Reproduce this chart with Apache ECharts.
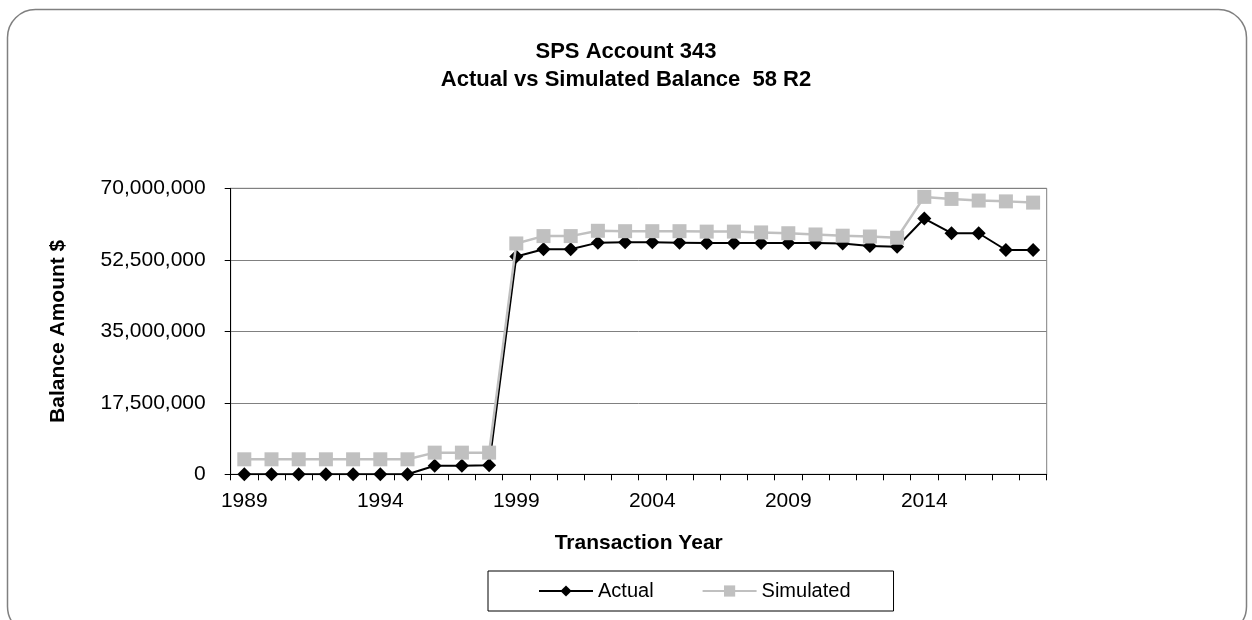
<!DOCTYPE html>
<html>
<head>
<meta charset="utf-8">
<script src="https://cdn.jsdelivr.net/npm/echarts@6/dist/echarts.min.js"></script>
<style>
html,body{margin:0;padding:0;background:#fff;}
#chart{width:1252px;height:620px;}
</style>
</head>
<body>
<div id="chart"></div>
<script>
const years = ['1989','1990','1991','1992','1993','1994','1995','1996','1997','1998','1999','2000','2001','2002','2003','2004','2005','2006','2007','2008','2009','2010','2011','2012','2013','2014','2015','2016','2017','2018'];
const actual = [0,0,0,0,0,0,0,2100000,2100000,2200000,53300000,55100000,55100000,56700000,56800000,56800000,56700000,56600000,56600000,56600000,56600000,56600000,56500000,55900000,55700000,62600000,59000000,59000000,54900000,54900000];
const simulated = [3670000,3670000,3670000,3670000,3670000,3670000,3670000,5300000,5300000,5300000,56500000,58300000,58300000,59600000,59500000,59500000,59500000,59400000,59400000,59200000,59000000,58700000,58400000,58200000,57900000,67900000,67400000,67000000,66800000,66500000];
const yTicks = {min:0, max:70000000, interval:17500000};
const titleLines = ['SPS Account 343','Actual vs Simulated Balance  58 R2'];

const FONT = "'Liberation Sans', Arial, sans-serif";
const chart = echarts.init(document.getElementById('chart'), null, {renderer:'canvas'});
chart.setOption({
  animation:false,
  backgroundColor:'#fff',
  graphic:[{
    type:'rect', silent:true, z:-1,
    shape:{x:7.5,y:9.5,width:1239,height:625,r:28},
    style:{fill:'none',stroke:'#808080',lineWidth:1.5}
  }],
  title:{
    text:titleLines.join('\n'),
    left:'center', top:33,
    textStyle:{fontFamily:FONT,fontSize:22,fontWeight:'bold',color:'#000',lineHeight:28}
  },
  legend:{
    left:488, top:571,
    padding:[10,43,10,50],
    itemGap:48, itemWidth:54, itemHeight:14,
    borderColor:'#000', borderWidth:1,
    textStyle:{fontFamily:FONT,fontSize:20,color:'#000'},
    data:['Actual','Simulated']
  },
  grid:{left:230.7,right:205.3,top:188.3,bottom:145.7,show:true,borderColor:'#808080',borderWidth:1,containLabel:false},
  xAxis:{
    type:'category', data:years, boundaryGap:true,
    name:'Transaction Year', nameLocation:'middle', nameGap:58,
    nameTextStyle:{fontFamily:FONT,fontSize:21,fontWeight:'bold',color:'#000'},
    axisLine:{lineStyle:{color:'#000',width:1}},
    axisTick:{show:true,interval:0,alignWithLabel:false,length:6,lineStyle:{color:'#000'}},
    axisLabel:{interval:4,margin:16,fontFamily:FONT,fontSize:21,color:'#000'},
    splitLine:{show:false}
  },
  yAxis:{
    type:'value', min:yTicks.min, max:yTicks.max, interval:yTicks.interval,
    name:'Balance Amount $', nameLocation:'middle', nameGap:162, nameRotate:90,
    nameTextStyle:{fontFamily:FONT,fontSize:21,fontWeight:'bold',color:'#000'},
    axisLine:{show:true,lineStyle:{color:'#000',width:1}},
    axisTick:{show:true,length:6,lineStyle:{color:'#000'}},
    axisLabel:{margin:25,fontFamily:FONT,fontSize:21,color:'#000',
      formatter:v=>v.toLocaleString('en-US')},
    splitLine:{show:true,lineStyle:{color:'#808080',width:1}}
  },
  series:[
    {name:'Actual',type:'line',data:actual,symbol:'diamond',symbolSize:14,
     lineStyle:{color:'#000',width:2},itemStyle:{color:'#000'},z:2},
    {name:'Simulated',type:'line',data:simulated,symbol:'rect',symbolSize:14,
     lineStyle:{color:'#C0C0C0',width:2.5},itemStyle:{color:'#C0C0C0'},z:3}
  ]
});
</script>
</body>
</html>
